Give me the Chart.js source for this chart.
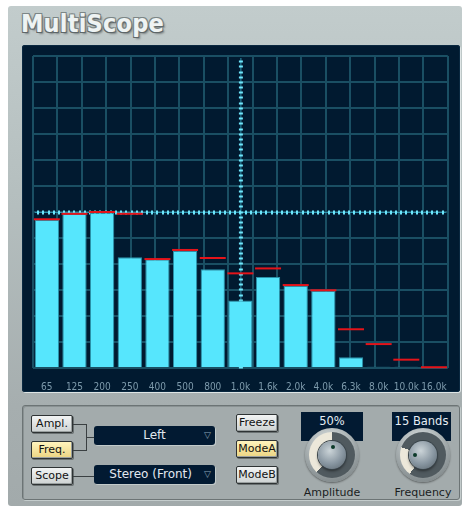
<!DOCTYPE html>
<html>
<head>
<meta charset="utf-8">
<script src="https://cdn.jsdelivr.net/npm/chart.js@4.4.1/dist/chart.umd.min.js"></script>
<style>
  body { margin: 0; width: 464px; height: 509px; background: #fff; position: relative; overflow: hidden; font-family: 'DejaVu Sans', sans-serif; }
  .abs { position: absolute; }
  #panel { left: 8px; top: 6px; width: 454px; height: 500px; border-radius: 3px;
    background: linear-gradient(#c2cccc, #b4bebe 40%, #a6aeaf 80%, #a2aaab); }
  #title { left: 21px; top: 9px; font: bold 25px 'DejaVu Sans Condensed', 'DejaVu Sans', sans-serif; color: #eef3f3; letter-spacing: 0.2px;
    text-shadow: -1px -1px 0 #7c8686, 1px -1px 0 #7c8686, -1px 1px 0 #5e6668, 1px 1px 0 #5e6668, 2px 2px 2px rgba(0,0,0,0.35); }
  #display { left: 22px; top: 45px; width: 438px; height: 347px; background: #011a30; border-radius: 3px;
    box-shadow: inset 0 0 0 1px #0a2840, 1px 1px 0 #dfe6e6; }
  #scope { left: 22px; top: 45px; }
  #lower { left: 22px; top: 405px; width: 436px; height: 93px; border: 1px solid #6c7475; border-radius: 3px;
    background: #a3abac; box-shadow: inset 1px 1px 0 #8a9293, 1px 1px 0 #c4cccc; }
  .btn { position: absolute; width: 40px; height: 16px; border: 1px solid #2e3334; border-radius: 2px;
    background: linear-gradient(#f2f4f4, #cdd2d2); font-size: 11px; line-height: 16px; text-align: center; color: #111;
    box-shadow: 1px 1px 0 #6a7172, inset -1px -1px 0 #9aa0a0; }
  .btn.on { background: linear-gradient(#fff4bd, #ebd482); }
  .drop { position: absolute; width: 121px; height: 19px; background: #021a32; border-radius: 3px; color: #e2e9f0;
    font-size: 12px; line-height: 19px; text-align: center; box-shadow: 1px 1px 0 #c2caca; }
  .drop .tri { position: absolute; right: 4px; top: 0; font-size: 9px; color: #8ea4b4; }
  .wire { position: absolute; background: #3a4042; }
  .val { position: absolute; height: 29px; background: #021a32; color: #e6eef4; font-size: 11.5px; text-align: center; line-height: 18px; }
  .knob { position: absolute; width: 54px; height: 54px; border-radius: 50%;
    background: radial-gradient(circle at 45% 30%, #e2e8e8, #98a0a2 60%, #6d7577); box-shadow: 0 1px 2px rgba(0,0,0,0.45); }
  .knob .track { position: absolute; left: 4px; top: 4px; width: 46px; height: 46px; border-radius: 50%; }
  .knob .cap { position: absolute; left: 13px; top: 13px; width: 28px; height: 28px; border-radius: 50%;
    background: radial-gradient(circle at 42% 35%, #cbd4d8, #8795a0 55%, #56626a); box-shadow: 0 0 0 1px #39444a, 0 2px 3px rgba(0,0,0,0.5); }
  .knob .dot { position: absolute; width: 4px; height: 4px; border-radius: 50%; background: #0c3a2a; }
  .klabel { position: absolute; width: 80px; text-align: center; font-size: 11px; color: #1a1d1e; }
</style>
</head>
<body>
<div id="panel" class="abs"></div>
<div id="title" class="abs">MultiScope</div>
<div id="display" class="abs"></div>
<canvas id="scope" class="abs" width="438" height="347"></canvas>
<div id="lower" class="abs"></div>

<div class="btn" style="left:31px;top:415px">Ampl.</div>
<div class="btn on" style="left:31px;top:441px">Freq.</div>
<div class="btn" style="left:31px;top:467px">Scope</div>
<div class="wire" style="left:73px;top:424px;width:13px;height:1px"></div>
<div class="wire" style="left:86px;top:424px;width:1px;height:27px"></div>
<div class="wire" style="left:73px;top:450px;width:13px;height:1px"></div>
<div class="wire" style="left:86px;top:437px;width:8px;height:1px"></div>
<div class="wire" style="left:73px;top:476px;width:21px;height:1px"></div>
<div class="drop" style="left:94px;top:426px">Left<span class="tri">▽</span></div>
<div class="drop" style="left:94px;top:465px">Stereo (Front)&nbsp;&nbsp;<span class="tri">▽</span></div>

<div class="btn" style="left:236px;top:414px">Freeze</div>
<div class="btn on" style="left:236px;top:440px">ModeA</div>
<div class="btn" style="left:236px;top:466px">ModeB</div>

<div class="val" style="left:301px;top:412px;width:62px">50%</div>
<div class="knob" style="left:305px;top:428px">
  <div class="track" style="background:conic-gradient(#505a5f 0deg 222deg, #ece8da 222deg 360deg)"></div>
  <div class="cap"></div>
  <div class="dot" style="left:26px;top:17px"></div>
</div>
<div class="klabel" style="left:292px;top:486px">Amplitude</div>

<div class="val" style="left:392px;top:412px;width:59px">15 Bands</div>
<div class="knob" style="left:396px;top:428px">
  <div class="track" style="background:conic-gradient(#505a5f 0deg 215deg, #ece8da 215deg 290deg, #505a5f 290deg 360deg)"></div>
  <div class="cap"></div>
  <div class="dot" style="left:17px;top:25px"></div>
</div>
<div class="klabel" style="left:383px;top:486px">Frequency</div>

<script>
// ── Spectrum data (15 bands, grid units 0..12) ──────────────────────
const bandLabels = ['65', '125', '200', '250', '400', '500', '800', '1.0k', '1.6k', '2.0k', '4.0k', '6.3k', '8.0k', '10.0k', '16.0k'];
const levels = [5.69, 5.92, 5.97, 4.26, 4.18, 4.51, 3.80, 2.60, 3.50, 3.15, 2.97, 0.41, 0.05, 0.05, 0];
const peaks = [5.72, 5.93, 6.00, 5.93, 4.19, 4.54, 4.23, 3.64, 3.83, 3.19, 2.99, 1.49, 0.92, 0.32, 0.03];

const GRID = '#1a4f63';

// dotted crosshair through the middle of the scope
const crosshair = {
    id: 'crosshair',
    beforeDatasetsDraw(chart) {
        const { ctx, chartArea: a } = chart;
        const cx = chart.scales.x2.getPixelForValue(8);
        const cy = chart.scales.y.getPixelForValue(6);
        const step = (a.right - a.left) / 80;
        ctx.save();
        ctx.strokeStyle = '#2f93ad';
        ctx.lineWidth = 1;
        ctx.beginPath();
        ctx.moveTo(a.left + 2, cy + 0.5); ctx.lineTo(a.right - 2, cy + 0.5);
        ctx.moveTo(cx + 0.5, a.top + 2); ctx.lineTo(cx + 0.5, a.bottom);
        ctx.stroke();
        ctx.fillStyle = '#6ee6fb';
        for (let x = a.left + step; x < a.right - 1; x += step) ctx.fillRect(Math.round(x) - 1, cy - 1.5, 2, 4);
        for (let y = a.top + step; y < a.bottom; y += step) ctx.fillRect(cx - 1.5, Math.round(y) - 0.5, 4, 2);
        ctx.restore();
    }
};

new Chart(document.getElementById('scope'), {
    type: 'bar',
    data: {
        labels: bandLabels,
        datasets: [
            {
                type: 'line',
                label: 'Peak',
                data: peaks,
                showLine: false,
                pointStyle: 'line',
                pointRadius: 13,
                pointHoverRadius: 13,
                borderColor: '#e4141a',
                borderWidth: 2,
                clip: false,
                order: 0,
            },
            {
                label: 'Level',
                data: levels,
                backgroundColor: '#56e6fd',
                borderColor: '#2b93ab',
                borderWidth: 1,
                barPercentage: 0.88,
                categoryPercentage: 1,
                order: 1,
            }
        ]
    },
    options: {
        responsive: false,
        animation: false,
        devicePixelRatio: 1,
        layout: { autoPadding: false, padding: { left: 11, right: 11, top: 11, bottom: 0 } },
        plugins: { legend: { display: false }, tooltip: { enabled: false } },
        scales: {
            x: {
                type: 'category',
                position: 'bottom',
                grid: { display: false, drawTicks: false },
                border: { display: false },
                ticks: { color: '#7d9aab', padding: 13, maxRotation: 0, autoSkip: false,
                         font: { family: "'Liberation Sans Narrow', 'DejaVu Sans Condensed', sans-serif", size: 10 } },
                afterFit(s) { s.height = 24; }
            },
            x2: {
                type: 'linear',
                position: 'top',
                min: 0, max: 16,
                ticks: { display: false, stepSize: 1 },
                grid: { color: GRID, lineWidth: 2, drawTicks: false },
                border: { display: false },
                afterFit(s) { s.height = 0; }
            },
            y: {
                min: 0, max: 12,
                ticks: { display: false, stepSize: 1 },
                grid: { color: GRID, lineWidth: 2, drawTicks: false },
                border: { display: false },
                afterFit(s) { s.width = 0; }
            }
        }
    },
    plugins: [crosshair]
});
</script>
</body>
</html>
